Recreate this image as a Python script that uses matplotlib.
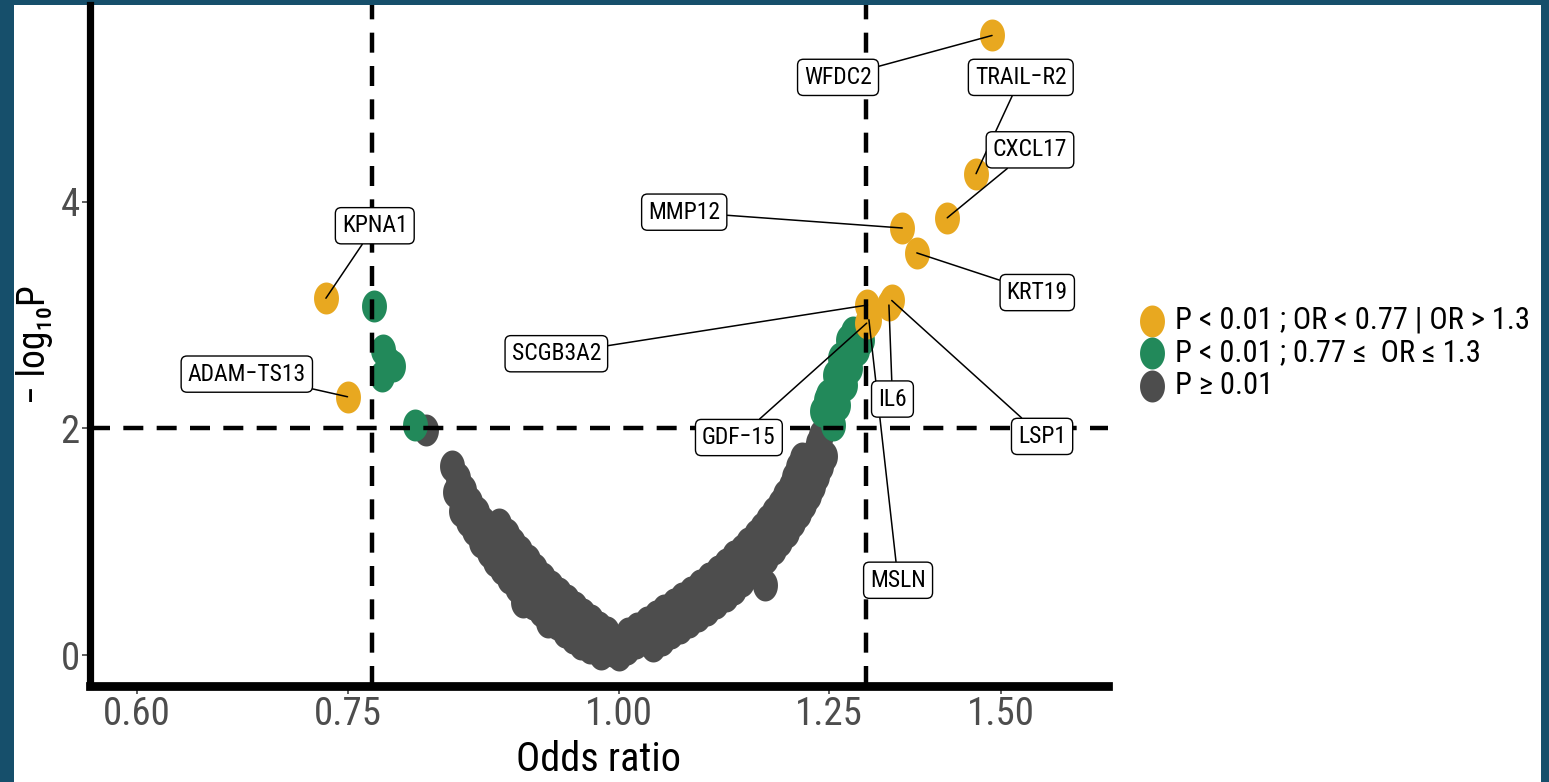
import numpy as np
import matplotlib
matplotlib.use('Agg')
import matplotlib.pyplot as plt
from matplotlib import font_manager
from matplotlib.path import Path
from matplotlib.patches import Rectangle
from matplotlib.ticker import FixedLocator, FixedFormatter, NullLocator

# proteins with P < 0.01 and OR outside [0.77, 1.3]
sig_names = ['KPNA1', 'ADAM\u2212TS13', 'WFDC2', 'TRAIL\u2212R2', 'CXCL17', 'MMP12', 'KRT19',
             'SCGB3A2', 'GDF\u221215', 'MSLN', 'IL6', 'LSP1']
sig_or = [0.733, 0.750, 1.486, 1.461, 1.417, 1.351, 1.372, 1.302, 1.301, 1.304, 1.332, 1.336]
sig_logp = [3.15, 2.28, 5.47, 4.25, 3.86, 3.77, 3.55, 3.09, 2.93, 2.96, 3.09, 3.13]

# where the repelled labels sit
lab_x = [0.772, 0.674, 1.262, 1.532, 1.547, 1.072, 1.559, 0.936, 1.136, 1.345, 1.337, 1.567]
lab_y = [3.79, 2.48, 5.10, 5.10, 4.46, 3.91, 3.20, 2.66, 1.92, 0.66, 2.26, 1.93]

# P < 0.01, 0.77 <= OR <= 1.3
green_or = [0.7716, 0.779, 0.7832, 0.7782, 0.7873, 0.8059,
            1.2554, 1.2408, 1.2621, 1.2488, 1.2461, 1.2715, 1.2581, 1.2783, 1.2648,
            1.2878, 1.2755, 1.2823, 1.2946]
green_logp = [3.08, 2.69, 2.59, 2.46, 2.55, 2.03,
              2.03, 2.15, 2.21, 2.30, 2.25, 2.38, 2.47, 2.53, 2.62,
              2.69, 2.78, 2.85, 2.78]

# P >= 0.01, OR below 1
gray_left_or = [0.838, 0.8435, 0.849, 0.854, 0.860, 0.866, 0.873, 0.879, 0.886, 0.892, 0.899, 0.907,
                0.914, 0.922, 0.930, 0.938, 0.946, 0.954, 0.962, 0.970, 0.979, 0.987, 0.993, 1.000,
                0.852, 0.864, 0.877, 0.890, 0.906, 0.921, 0.937, 0.953, 0.970, 0.981,
                0.846, 0.871, 0.884, 0.898, 0.913, 0.929, 0.945, 0.961,
                0.841, 0.858, 0.903, 0.928,
                0.888, 0.901, 0.915, 0.931, 0.947, 0.963, 0.979, 0.993, 1.002,
                0.881, 0.894, 0.908, 0.923, 0.939, 0.955, 0.971, 0.988,
                0.815]
gray_left_logp = [1.67, 1.56, 1.46, 1.35, 1.26, 1.17, 1.08, 0.99, 0.91, 0.84, 0.76, 0.68,
                  0.60, 0.53, 0.47, 0.41, 0.34, 0.28, 0.23, 0.18, 0.12, 0.07, 0.035, 0.0,
                  1.18, 1.00, 0.83, 0.68, 0.52, 0.39, 0.27, 0.15, 0.06, 0.01,
                  1.27, 0.91, 0.76, 0.60, 0.45, 0.33, 0.20, 0.10,
                  1.44, 1.10, 0.47, 0.29,
                  1.07, 0.92, 0.76, 0.61, 0.49, 0.36, 0.25, 0.13, 0.115,
                  1.16, 0.99, 0.84, 0.68, 0.55, 0.42, 0.31, 0.20,
                  1.99]

# P >= 0.01, OR above 1
gray_right_or = [1.009, 1.019, 1.029, 1.038, 1.048, 1.058, 1.069, 1.079, 1.089, 1.100, 1.110, 1.121,
                 1.130, 1.140, 1.150, 1.158, 1.167, 1.176, 1.183, 1.191, 1.198, 1.205, 1.211, 1.216,
                 1.221, 1.227, 1.232, 1.236, 1.240,
                 1.037, 1.057, 1.078, 1.098, 1.120, 1.140, 1.161, 1.179, 1.196, 1.211, 1.224, 1.234, 1.244,
                 1.047, 1.067, 1.088, 1.109, 1.130, 1.151, 1.169, 1.187, 1.203, 1.217, 1.229, 1.240,
                 1.010, 1.030, 1.049, 1.070, 1.090, 1.111, 1.130, 1.147, 1.164, 1.179, 1.193, 1.205, 1.215,
                 1.020, 1.040, 1.060, 1.080, 1.101, 1.121, 1.140, 1.157, 1.172, 1.187, 1.200, 1.210,
                 1.168]
gray_right_logp = [0.05, 0.11, 0.16, 0.21, 0.27, 0.32, 0.37, 0.42, 0.48, 0.54, 0.60, 0.66,
                   0.72, 0.79, 0.85, 0.92, 0.99, 1.06, 1.13, 1.21, 1.29, 1.37, 1.45, 1.53,
                   1.62, 1.70, 1.79, 1.87, 1.94,
                   0.08, 0.19, 0.29, 0.40, 0.52, 0.65, 0.79, 0.94, 1.09, 1.25, 1.41, 1.58, 1.76,
                   0.13, 0.24, 0.34, 0.46, 0.58, 0.72, 0.86, 1.01, 1.17, 1.33, 1.49, 1.67,
                   0.19, 0.29, 0.40, 0.50, 0.62, 0.74, 0.87, 0.99, 1.12, 1.26, 1.41, 1.57, 1.74,
                   0.24, 0.34, 0.45, 0.56, 0.68, 0.80, 0.93, 1.06, 1.19, 1.33, 1.49, 1.66,
                   0.62]

legend_labels = ['P < 0.01 ; OR < 0.77 | OR > 1.3',
                 'P < 0.01 ; 0.77 \u2264  OR \u2264 1.3',
                 'P \u2265 0.01']
x_ticks = [0.60, 0.75, 1.00, 1.25, 1.50]
x_ticklabels = ['0.60', '0.75', '1.00', '1.25', '1.50']
y_ticks = [0, 2, 4]

ORANGE = '#E8A820'
GREEN = '#22895A'
GREY = '#4D4D4D'

# a condensed face is closer to the squeezed lettering of the original
names = {f.name for f in font_manager.fontManager.ttflist}
cond = 'Roboto Condensed' in names
base = 'Roboto Condensed' if cond else 'Liberation Sans'
k = 1.0 if cond else 0.85
plt.rcParams['font.family'] = [base, 'DejaVu Sans']

# points in the original are a bit taller than wide
t = np.linspace(0, 2 * np.pi, 60)
ell = Path(np.column_stack([0.78 * np.cos(t), np.sin(t)]), closed=True)
S = 530

W, H = 1549, 782
fig = plt.figure(figsize=(W / 100, H / 100), dpi=100, facecolor='#164f6b')
fig.add_artist(Rectangle((14 / W, 0), (1541 - 14) / W, 777 / H, transform=fig.transFigure,
                         facecolor='white', edgecolor='none', zorder=-5))

ax = fig.add_axes([89.5 / W, 96 / H, (1108 - 89.5) / W, (686 - 5) / H])
ax.set_facecolor('none')
ax.set_xscale('log')

gray_sc = ax.scatter(gray_left_or + gray_right_or, gray_left_logp + gray_right_logp,
                     s=S, marker=ell, color=GREY, linewidths=0, zorder=2)
green_sc = ax.scatter(green_or, green_logp, s=S, marker=ell, color=GREEN, linewidths=0, zorder=2)
orange_sc = ax.scatter(sig_or, sig_logp, s=S, marker=ell, color=ORANGE, linewidths=0, zorder=2)

dash = (0, (4.5, 3))
ax.axhline(2, color='black', lw=3.2, ls=dash, zorder=3)
ax.axvline(0.77, color='black', lw=3.2, ls=dash, zorder=3)
ax.axvline(1.3, color='black', lw=3.2, ls=dash, zorder=3)

for name, x, y, lx, ly in zip(sig_names, sig_or, sig_logp, lab_x, lab_y):
    ax.annotate(name, xy=(x, y), xytext=(lx, ly), textcoords='data',
                ha='center', va='center', fontsize=17 * k, color='black', zorder=5,
                bbox=dict(boxstyle='round,pad=0.28,rounding_size=0.25', fc='white', ec='black', lw=1.0),
                arrowprops=dict(arrowstyle='-', color='black', lw=1.1, shrinkA=0, shrinkB=0))

ax.set_xlim(0.5704, 1.6805)
ax.set_ylim(-0.2737, 5.739)
ax.xaxis.set_major_locator(FixedLocator(x_ticks))
ax.xaxis.set_major_formatter(FixedFormatter(x_ticklabels))
ax.xaxis.set_minor_locator(NullLocator())
ax.set_yticks(y_ticks)

for side in ['top', 'right']:
    ax.spines[side].set_visible(False)
ax.spines['left'].set_linewidth(5.2)
ax.spines['bottom'].set_linewidth(6.3)
ax.spines['left'].set_color('black')
ax.spines['bottom'].set_color('black')

ax.tick_params(axis='both', direction='out', length=5.5, width=1.1, color='#333333',
               labelsize=28 * k, labelcolor='#4D4D4D')
ax.tick_params(axis='x', pad=2)
ax.tick_params(axis='y', pad=1.5)

ax.set_xlabel('Odds ratio', fontsize=29 * k, color='black')
ax.xaxis.set_label_coords(0.5, -0.080)
ax.set_ylabel('\u2212 log\u2081\u2080P', fontsize=27 * k, color='black')
ax.yaxis.set_label_coords(-0.036, 0.502)

ax.legend(handles=[orange_sc, green_sc, gray_sc], labels=legend_labels,
          loc='center left', bbox_to_anchor=(1140 / W, 1 - 353 / H), bbox_transform=fig.transFigure,
          frameon=False, fontsize=22 * k, handlelength=0.8, handletextpad=0.35,
          labelspacing=0.12, borderpad=0, borderaxespad=0, scatterpoints=1)

fig.savefig('out.png', dpi=100, facecolor=fig.get_facecolor())
